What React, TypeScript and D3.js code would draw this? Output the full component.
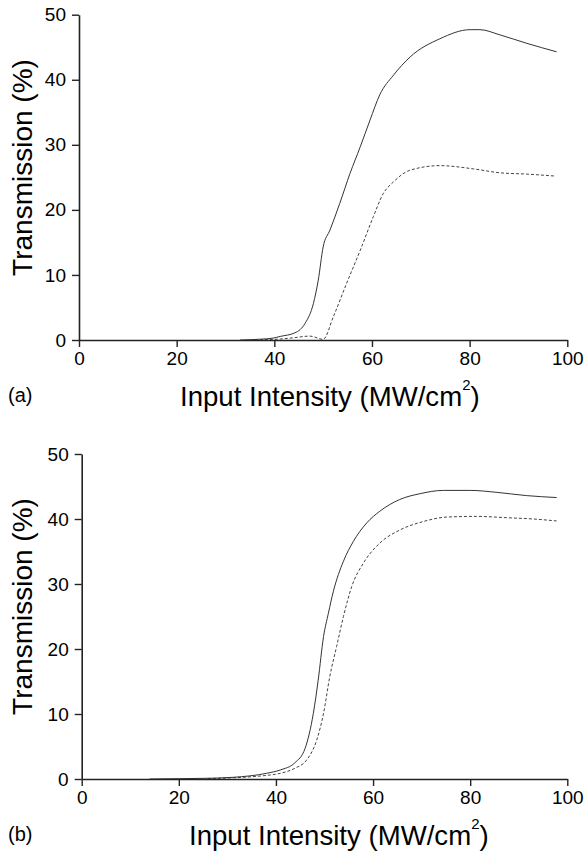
import React, { useRef, useEffect } from "react";
import * as d3 from "d3";

// Panel (a)
const aSolidX = [33, 37, 39.8, 41.2, 44.2, 45.3, 46.3, 48, 49, 50, 51.4, 53.4, 55.5, 57.6, 59.6, 61.6, 64.4, 67.8, 73.9, 80.1, 82.1, 86.2, 91.7, 97.8];
const aSolidY = [0, 0.12, 0.3, 0.55, 1.1, 1.6, 2.56, 5.6, 9.2, 14.3, 16.9, 21.0, 25.6, 29.7, 33.8, 37.7, 40.7, 43.5, 46.3, 47.7, 47.7, 46.9, 45.6, 44.3];
const aDashX = [36, 39, 41.2, 44, 47.3, 50, 52.1, 54.8, 57.6, 60.3, 62.3, 64.4, 67.8, 73.9, 80.8, 86.2, 91.7, 97.5];
const aDashY = [0, 0.08, 0.15, 0.35, 0.6, 0.1, 3.6, 8.7, 13.8, 19.0, 22.5, 24.3, 26.1, 26.8, 26.3, 25.7, 25.5, 25.2];

// Panel (b)
const bSolidX = [14, 20, 25, 31.2, 38.1, 40.9, 43.9, 46, 47.7, 48.7, 49.8, 50.8, 51.8, 53.9, 55.9, 58.7, 61.4, 65.5, 69.7, 74.5, 80, 85.5, 91.6, 97.8];
const bSolidY = [0, 0.05, 0.1, 0.26, 0.88, 1.39, 2.5, 4.7, 10.1, 15.2, 21.9, 25.5, 28.8, 33.5, 36.5, 39.4, 41.2, 43.0, 43.9, 44.4, 44.4, 44.1, 43.6, 43.3];
const bDashX = [26, 30, 35, 38, 40.9, 43.9, 46.3, 48.4, 49.8, 51.1, 52.5, 53.9, 55.6, 58, 61.4, 65.5, 70.3, 75.2, 81.3, 87.5, 93, 97.8];
const bDashY = [0.05, 0.15, 0.35, 0.55, 0.87, 1.65, 2.9, 6.0, 10.1, 15.8, 20.4, 25.0, 29.6, 33.2, 36.3, 38.3, 39.6, 40.3, 40.4, 40.2, 40.0, 39.7];

const xTicks = [0, 20, 40, 60, 80, 100];
const yTicks = [0, 10, 20, 30, 40, 50];

const FONT = "'Liberation Sans', Arial, Helvetica, sans-serif";

const panels = [
  { tag: "(a)", left: 79, right: 567.3, top: 14.7, bottom: 340, sx: aSolidX, sy: aSolidY, dx: aDashX, dy: aDashY, xLabelX: 180, yLabelY: 167.5 },
  { tag: "(b)", left: 81.7, right: 567.3, top: 454, bottom: 779, sx: bSolidX, sy: bSolidY, dx: bDashX, dy: bDashY, xLabelX: 189, yLabelY: 606.5 },
];

export default function App() {
  const svgRef = useRef<SVGSVGElement>(null);

  useEffect(() => {
    const svg = d3.select(svgRef.current);
    svg.selectAll("*").remove();

    panels.forEach((p) => {
      const x = d3.scaleLinear().domain([0, 100]).range([p.left, p.right]);
      const y = d3.scaleLinear().domain([0, 50]).range([p.bottom, p.top]);
      const g = svg.append("g");

      const line = d3
        .line<[number, number]>()
        .x((d) => x(d[0]))
        .y((d) => y(d[1]))
        .curve(d3.curveMonotoneX);

      const solid = p.sx.map((v, i) => [v, p.sy[i]] as [number, number]);
      const dashed = p.dx.map((v, i) => [v, p.dy[i]] as [number, number]);

      g.append("path")
        .attr("d", line(dashed))
        .attr("fill", "none")
        .attr("stroke", "#444")
        .attr("stroke-width", 1)
        .attr("stroke-dasharray", "3,2");

      g.append("path")
        .attr("d", line(solid))
        .attr("fill", "none")
        .attr("stroke", "#333")
        .attr("stroke-width", 1);

      // axes
      const xAxis = g
        .append("g")
        .attr("transform", `translate(0,${p.bottom})`)
        .call(d3.axisBottom(x).tickValues(xTicks).tickSize(7).tickSizeOuter(0).tickPadding(5));
      const yAxis = g
        .append("g")
        .attr("transform", `translate(${p.left},0)`)
        .call(d3.axisLeft(y).tickValues(yTicks).tickSize(7).tickSizeOuter(0).tickPadding(6));

      [xAxis, yAxis].forEach((ax) => {
        ax.select(".domain").attr("stroke", "#222").attr("stroke-width", 1.6);
        ax.selectAll(".tick line").attr("stroke", "#222").attr("stroke-width", 1.4);
        ax.selectAll(".tick text")
          .attr("fill", "#000")
          .style("font-family", FONT)
          .style("font-size", "19px");
      });

      // axis titles
      g.append("text")
        .attr("transform", `translate(32,${p.yLabelY}) rotate(-90)`)
        .attr("text-anchor", "middle")
        .style("font-family", FONT)
        .style("font-size", "28px")
        .text("Transmission (%)");

      const xt = g
        .append("text")
        .attr("x", p.xLabelX)
        .attr("y", p.bottom + 66)
        .style("font-family", FONT)
        .style("font-size", "27.6px");
      xt.append("tspan").text("Input Intensity (MW/cm");
      xt.append("tspan").attr("dy", -16).style("font-size", "15px").text("2");
      xt.append("tspan").attr("dy", 16).text(")");

      g.append("text")
        .attr("x", 8)
        .attr("y", p.bottom + 62)
        .style("font-family", FONT)
        .style("font-size", "20px")
        .text(p.tag);
    });
  }, []);

  return (
    <svg
      ref={svgRef}
      width={587}
      height={853}
      style={{ position: "absolute", left: 0, top: 0, background: "#fff" }}
    />
  );
}
